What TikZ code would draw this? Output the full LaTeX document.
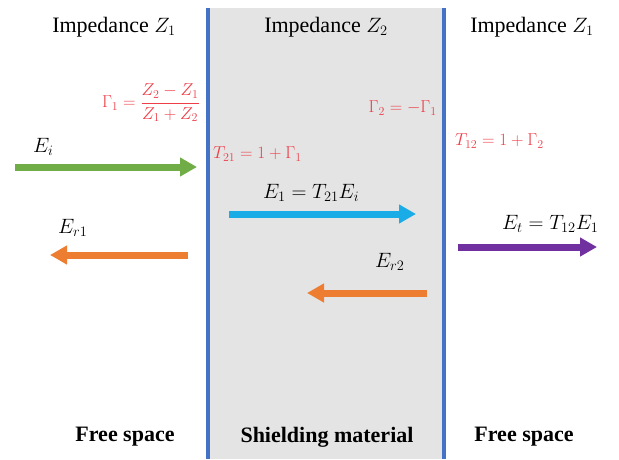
\documentclass[tikz,border=0pt]{standalone}
\usepackage{amsmath}
\usepackage{fontspec}
\setmainfont{Liberation Serif}
\usetikzlibrary{arrows.meta}

\definecolor{wallblue}{HTML}{4472C4}
\definecolor{shieldgray}{HTML}{E4E4E4}
\definecolor{coefred}{RGB}{238,62,72}
\definecolor{incgreen}{HTML}{70AD47}
\definecolor{insidecyan}{HTML}{1AACE6}
\definecolor{reflorange}{HTML}{ED7D31}
\definecolor{transpurple}{HTML}{7030A0}

\begin{document}
\begin{tikzpicture}[x=1pt,y=1pt]
    \tikzset{
        wave/.style={line width=7pt, -{Triangle[length=17pt,width=18pt]}},
        headtext/.style={font=\fontsize{22}{26}\selectfont},
        bottomtext/.style={font=\fontsize{22}{26}\selectfont\bfseries},
        coeff/.style={text=coefred, font=\fontsize{18}{21}\selectfont, inner sep=0pt},
        fieldlabel/.style={font=\fontsize{22}{26}\selectfont, anchor=base west, inner sep=0pt}
    }
    \useasboundingbox (0,0) rectangle (619,459);

    % Materiau de blindage (zone grise + interfaces)
    \fill[shieldgray] (208,0) rectangle (444,451);
    \draw[wallblue, line width=4pt] (208,0) -- (208,451);
    \draw[wallblue, line width=4pt] (444,0) -- (444,451);

    % Impedances (en haut)
    \node[headtext] (hleft) at (114,432) {Impedance $Z_1$};
    \node[headtext] (hmid) at (326,432) {Impedance $Z_2$};
    \node[headtext] (hright) at (532,432) {Impedance $Z_1$};

    % Coefficients de reflexion / transmission
    \node[coeff, anchor=east] (gam1) at (200,356) {$\Gamma_1 = \dfrac{Z_2 - Z_1}{Z_1 + Z_2}$};
    \node[coeff, anchor=west] (tau21) at (213,305) {$T_{21} = 1 + \Gamma_1$};
    \node[coeff, anchor=east] (gam2) at (437,351) {$\Gamma_2 = -\Gamma_1$};
    \node[coeff, anchor=west] (tau12) at (455,318) {$T_{12} = 1 + \Gamma_2$};

    % Ondes
    \draw[wave, incgreen] (15,292) -- (197,292);
    \draw[wave, insidecyan] (229,245) -- (416,245);
    \draw[wave, transpurple] (458,212) -- (597,212);
    \draw[wave, reflorange] (188,204) -- (50,204);
    \draw[wave, reflorange] (427,166) -- (307,166);

    % Noms des champs
    \node[fieldlabel] (lEi) at (33,307) {$E_i$};
    \node[fieldlabel] (lEr1) at (58,226) {$E_{r1}$};
    \node[fieldlabel] (lE1) at (263,261) {$E_1 = T_{21}E_i$};
    \node[fieldlabel] (lEr2) at (375,192) {$E_{r2}$};
    \node[fieldlabel] (lEt) at (502,230) {$E_t = T_{12}E_1$};

    % Milieux (en bas)
    \node[bottomtext] (fsl) at (125,22) {Free space};
    \node[bottomtext] (shm) at (327,22) {Shielding material};
    \node[bottomtext] (fsr) at (524,22) {Free space};
\end{tikzpicture}
\end{document}
